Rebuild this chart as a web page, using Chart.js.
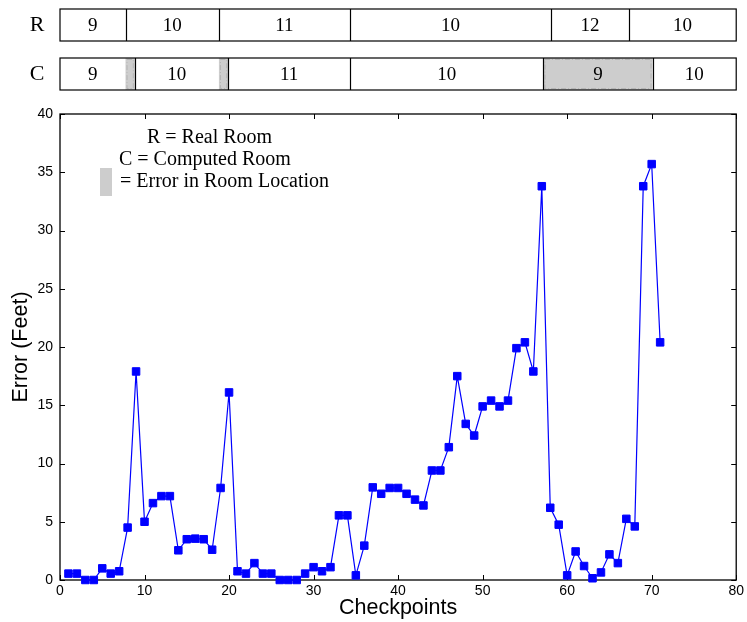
<!DOCTYPE html>
<html>
<head>
<meta charset="utf-8">
<script src="https://cdn.jsdelivr.net/npm/chart.js@4/dist/chart.umd.min.js"></script>
<style>
  html, body { margin: 0; padding: 0; background: #fff; }
  #wrap { width: 747px; height: 622px; }
</style>
</head>
<body>
<div id="wrap"><canvas id="chart" width="747" height="622"></canvas></div>
<script>
// Localization error at each checkpoint (feet)
const checkpoints = [
  1, 2, 3, 4, 5, 6, 7, 8, 9, 10, 11, 12, 13, 14, 15, 16, 17, 18, 19, 20,
  21, 22, 23, 24, 25, 26, 27, 28, 29, 30, 31, 32, 33, 34, 35, 36, 37, 38, 39, 40,
  41, 42, 43, 44, 45, 46, 47, 48, 49, 50, 51, 52, 53, 54, 55, 56, 57, 58, 59, 60,
  61, 62, 63, 64, 65, 66, 67, 68, 69, 70, 71
];
const errorFeet = [
  0.55, 0.55, 0, 0, 1.0, 0.55, 0.75, 4.5, 17.9, 5.0, 6.6, 7.2, 7.2, 2.55, 3.5, 3.55, 3.5, 2.6, 7.9, 16.1,
  0.75, 0.55, 1.45, 0.55, 0.55, 0, 0, 0, 0.55, 1.1, 0.75, 1.1, 5.55, 5.55, 0.4, 2.95, 7.95, 7.4, 7.9, 7.9,
  7.4, 6.9, 6.4, 9.4, 9.4, 11.4, 17.5, 13.4, 12.4, 14.9, 15.4, 14.9, 15.4, 19.9, 20.4, 17.9, 33.8, 6.2, 4.75, 0.4,
  2.45, 1.2, 0.15, 0.65, 2.2, 1.45, 5.25, 4.6, 33.8, 35.7, 20.4
];

// Axis ticks
const xTicks = [0, 10, 20, 30, 40, 50, 60, 70, 80];
const yTicks = [0, 5, 10, 15, 20, 25, 30, 35, 40];

// Real room strip: boundaries in checkpoint units and room numbers
const realBounds = [0, 7.75, 18.8, 34.3, 58.1, 67.3, 80];
const realLabels = ['9', '10', '11', '10', '12', '10'];

// Computed room strip: boundaries, room numbers, and spans where the room is wrong
const computedBounds = [0, 7.75, 8.85, 18.8, 19.9, 34.3, 57.2, 70.1, 80];
const computedLabels = ['9', '', '10', '', '11', '10', '9', '10'];
const computedWrong = [false, true, false, true, false, false, true, false];

// Legend lines
const legendLines = ['R = Real Room', 'C = Computed Room', '= Error in Room Location'];

const SANS = '"Liberation Sans", Arial, Helvetica, sans-serif';
const SERIF = '"Liberation Serif", "Times New Roman", serif';
const ERR_FILL = '#cdcdcd';

function drawStrip(ctx, px, top, h, bounds, labels, wrong) {
  const left = px(bounds[0]), right = px(bounds[bounds.length - 1]);
  // error shading
  if (wrong) {
    for (let i = 0; i < labels.length; i++) {
      if (!wrong[i]) continue;
      const a = px(bounds[i]), b = px(bounds[i + 1]);
      ctx.fillStyle = ERR_FILL;
      ctx.fillRect(a, top, b - a, h);
      ctx.save();
      ctx.strokeStyle = '#b4b4b4';
      ctx.lineWidth = 1;
      ctx.setLineDash([5, 2, 1, 2]);
      ctx.strokeRect(a + 1.5, top + 1.5, b - a - 3, h - 3);
      ctx.restore();
    }
  }
  // outer box
  ctx.strokeStyle = '#000';
  ctx.lineWidth = 1.2;
  ctx.strokeRect(left, top, right - left, h);
  // dividers
  for (let i = 1; i < labels.length; i++) {
    if (wrong && wrong[i] && labels[i] === '') continue;
    const x = Math.round(px(bounds[i])) + 0.5;
    ctx.beginPath();
    ctx.moveTo(x, top);
    ctx.lineTo(x, top + h);
    ctx.stroke();
  }
  // room numbers
  ctx.fillStyle = '#000';
  ctx.font = '19px ' + SERIF;
  ctx.textAlign = 'center';
  ctx.textBaseline = 'middle';
  for (let i = 0; i < labels.length; i++) {
    if (!labels[i]) continue;
    const c = (px(bounds[i]) + px(bounds[i + 1])) / 2;
    ctx.fillText(labels[i], c, top + h / 2 + 1);
  }
}

const roomStrips = {
  id: 'roomStrips',
  afterDraw(chart) {
    const ctx = chart.ctx;
    const xs = chart.scales.x;
    const px = v => xs.getPixelForValue(v);
    ctx.save();
    drawStrip(ctx, px, 9, 32, realBounds, realLabels, null);
    drawStrip(ctx, px, 58, 32, computedBounds, computedLabels, computedWrong);
    ctx.fillStyle = '#000';
    ctx.font = '22px ' + SERIF;
    ctx.textAlign = 'center';
    ctx.textBaseline = 'middle';
    ctx.fillText('R', 37, 25);
    ctx.fillText('C', 37, 74);
    ctx.restore();
  }
};

const frameTicks = {
  id: 'frameTicks',
  beforeDatasetsDraw(chart) {
    const ctx = chart.ctx;
    const a = chart.chartArea;
    const xs = chart.scales.x, ys = chart.scales.y;
    const L = 5;
    ctx.save();
    ctx.strokeStyle = '#000';
    ctx.lineWidth = 1.3;
    ctx.strokeRect(a.left, a.top, a.right - a.left, a.bottom - a.top);
    ctx.lineWidth = 1;
    ctx.beginPath();
    xTicks.forEach(v => {
      const x = Math.round(xs.getPixelForValue(v)) + 0.5;
      ctx.moveTo(x, a.bottom); ctx.lineTo(x, a.bottom - L);
      ctx.moveTo(x, a.top); ctx.lineTo(x, a.top + L);
    });
    yTicks.forEach(v => {
      const y = Math.round(ys.getPixelForValue(v)) + 0.5;
      ctx.moveTo(a.left, y); ctx.lineTo(a.left + L, y);
      ctx.moveTo(a.right, y); ctx.lineTo(a.right - L, y);
    });
    ctx.stroke();

    // key in the upper-left corner
    ctx.fillStyle = '#000';
    ctx.font = '20px ' + SERIF;
    ctx.textAlign = 'left';
    ctx.textBaseline = 'alphabetic';
    ctx.fillText(legendLines[0], a.left + 87, a.top + 29);
    ctx.fillText(legendLines[1], a.left + 59, a.top + 51);
    ctx.fillText(legendLines[2], a.left + 60, a.top + 73);
    ctx.fillStyle = ERR_FILL;
    ctx.fillRect(a.left + 40, a.top + 54, 12, 28);
    ctx.restore();
  }
};

new Chart(document.getElementById('chart'), {
  type: 'line',
  data: {
    datasets: [{
      data: checkpoints.map((c, i) => ({ x: c, y: errorFeet[i] })),
      borderColor: '#0000ff',
      backgroundColor: '#0000ff',
      borderWidth: 1.2,
      pointStyle: 'rect',
      pointRadius: 5.3,
      pointBorderWidth: 1,
      pointBorderColor: '#0000ff',
      pointBackgroundColor: '#0000ff',
      tension: 0,
      clip: false
    }]
  },
  options: {
    responsive: false,
    animation: false,
    devicePixelRatio: 1,
    layout: { padding: { left: 0, top: 114, right: 9, bottom: 0 } },
    plugins: { legend: { display: false }, tooltip: { enabled: false } },
    scales: {
      x: {
        type: 'linear', min: 0, max: 80,
        afterBuildTicks(s) { s.ticks = xTicks.map(v => ({ value: v })); },
        ticks: { color: '#000', font: { family: SANS, size: 14 }, padding: 3, maxRotation: 0 },
        grid: { display: false, drawTicks: false },
        border: { display: false },
        title: { display: true, text: 'Checkpoints', color: '#000', font: { family: SANS, size: 21.5 }, padding: { top: 0, bottom: 1 } },
        afterFit(s) { s.height = 42; }
      },
      y: {
        type: 'linear', min: 0, max: 40,
        afterBuildTicks(s) { s.ticks = yTicks.map(v => ({ value: v })); },
        ticks: { color: '#000', font: { family: SANS, size: 14 }, padding: 7 },
        grid: { display: false, drawTicks: false },
        border: { display: false },
        title: { display: true, text: 'Error (Feet)', color: '#000', font: { family: SANS, size: 21.5 }, padding: { top: 8, bottom: 0 } },
        afterFit(s) { s.width = 60; }
      }
    }
  },
  plugins: [frameTicks, roomStrips]
});
</script>
</body>
</html>
